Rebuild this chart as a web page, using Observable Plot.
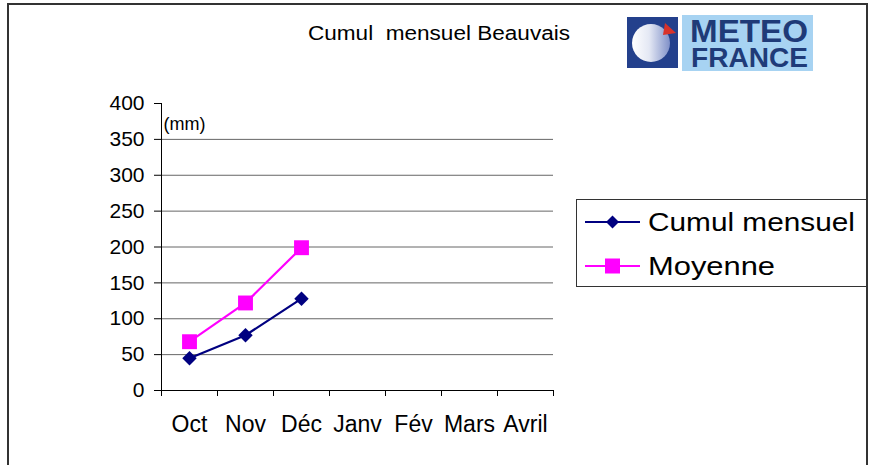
<!DOCTYPE html>
<html>
<head>
<meta charset="utf-8">
<script src="https://cdn.jsdelivr.net/npm/d3@7"></script>
<script src="https://cdn.jsdelivr.net/npm/@observablehq/plot@0.6"></script>
<style>
  body { margin: 0; background: #fff; }
  #wrap { position: relative; width: 873px; height: 465px; overflow: hidden; background: #fff; font-family: "Liberation Sans", Arial, sans-serif; }
  #frame { position: absolute; left: 7px; top: 3px; width: 861px; height: 480px; border: 2px solid #333; border-bottom: none; box-sizing: border-box; }
  #chart { position: absolute; left: 0; top: 0; }
  .ov { position: absolute; left: 0; top: 0; }
</style>
</head>
<body>
<div id="wrap">
  <div id="frame"></div>
  <div id="chart"></div>
  <svg class="ov" width="873" height="465" style="pointer-events:none">
    <defs>
      <linearGradient id="g1" x1="0" y1="0" x2="1" y2="0">
        <stop offset="0" stop-color="#ffffff"/>
        <stop offset="0.45" stop-color="#e4e8f4"/>
        <stop offset="1" stop-color="#7f90c8"/>
      </linearGradient>
    </defs>
    <text x="308" y="40" font-size="20" fill="#000" style="white-space:pre" textLength="262" lengthAdjust="spacingAndGlyphs" font-family="Liberation Sans, Arial, sans-serif">Cumul  mensuel Beauvais</text>
    <g transform="translate(626,14)">
      <rect x="1" y="3" width="51" height="51" fill="#23408c"/>
      <circle cx="25" cy="29" r="19" fill="url(#g1)"/>
      <polygon points="39,9 50,19 37,21" fill="#d8322a"/>
      <rect x="56" y="1" width="131" height="56" fill="#a7d3f2"/>
      <text font-weight="bold" fill="#1f3b78" font-family="Liberation Sans, Arial, sans-serif"><tspan x="64" y="28" font-size="31" textLength="118" lengthAdjust="spacingAndGlyphs">METEO</tspan><tspan x="65" y="53" font-size="27" textLength="117" lengthAdjust="spacingAndGlyphs">FRANCE</tspan></text>
    </g>
    <g transform="translate(576,199)" font-family="Liberation Sans, Arial, sans-serif">
      <rect x="0.5" y="0.5" width="290" height="87" fill="#fff" stroke="#333" stroke-width="1"/>
      <line x1="9" x2="64" y1="23" y2="23" stroke="#000080" stroke-width="2"/>
      <polygon points="36.5,16.5 43,23 36.5,29.5 30,23" fill="#000080"/>
      <text x="72" y="32" font-size="26" fill="#000" textLength="207" lengthAdjust="spacingAndGlyphs">Cumul mensuel</text>
      <line x1="9" x2="64" y1="67" y2="67" stroke="#FF00FF" stroke-width="2"/>
      <rect x="29" y="59.5" width="15" height="15" fill="#FF00FF"/>
      <text x="72" y="76" font-size="26" fill="#000" textLength="127" lengthAdjust="spacingAndGlyphs">Moyenne</text>
    </g>
  </svg>
</div>
<script>
const months = ["Oct", "Nov", "Déc", "Janv", "Fév", "Mars", "Avril"];
const cumulMensuel = [45, 77, 128];
const moyenne = [68, 122, 199];
const yTicks = [0, 50, 100, 150, 200, 250, 300, 350, 400];
const gridValues = [50, 100, 150, 200, 250, 300, 350];

const cumulData = cumulMensuel.map((v, i) => ({ idx: i + 0.5, month: months[i], value: v }));
const moyData = moyenne.map((v, i) => ({ idx: i + 0.5, month: months[i], value: v }));
const boundaries = d3.range(months.length + 1);
const centers = months.map((m, i) => i + 0.5);

const plot = Plot.plot({
  width: 873,
  height: 465,
  marginLeft: 161,
  marginRight: 320,
  marginTop: 103,
  marginBottom: 75,
  style: { fontFamily: "Liberation Sans, Arial, sans-serif", background: "transparent", color: "#000" },
  x: { type: "linear", domain: [0, months.length] },
  y: { domain: [0, 400] },
  marks: [
    Plot.ruleY(gridValues, { stroke: "#666", strokeWidth: 1 }),
    Plot.axisY({ ticks: yTicks, tickSize: 7, tickPadding: 10, fontSize: 21, label: null, tickFormat: d => String(d), strokeWidth: 1 }),
    Plot.ruleX([0], { stroke: "#000", strokeWidth: 1 }),
    Plot.ruleY([0], { stroke: "#000", strokeWidth: 1 }),
    Plot.axisX({ ticks: boundaries, tickSize: 6, tickFormat: () => "", label: null }),
    Plot.axisX({ ticks: centers, tickSize: 0, tickPadding: 25, fontSize: 23, label: null, tickFormat: i => months[Math.floor(i)] }),
    Plot.text(["(mm)"], { frameAnchor: "top-left", dx: 2, dy: 14, textAnchor: "start", fontSize: 18, fill: "#000" }),
    Plot.line(cumulData, { x: "idx", y: "value", stroke: "#000080", strokeWidth: 2.2 }),
    Plot.dot(cumulData, { x: "idx", y: "value", symbol: "diamond2", fill: "#000080", stroke: "none", r: 6.5 }),
    Plot.line(moyData, { x: "idx", y: "value", stroke: "#FF00FF", strokeWidth: 2.2 }),
    Plot.dot(moyData, { x: "idx", y: "value", symbol: "square", fill: "#FF00FF", stroke: "none", r: 8.4 })
  ]
});
document.getElementById("chart").appendChild(plot);
</script>
</body>
</html>
